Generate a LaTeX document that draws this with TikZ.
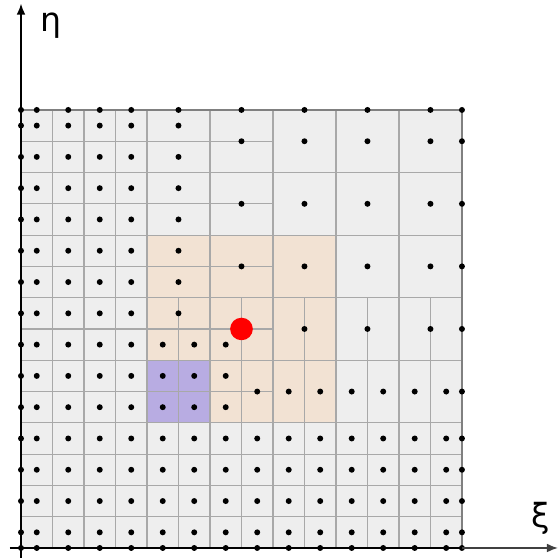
\documentclass[tikz,border=0pt]{standalone}
\usepackage{fontspec}
\setsansfont{DejaVu Sans}
\usepackage{tikz}
\usetikzlibrary{arrows.meta}
\definecolor{cellgray}{HTML}{EEEEEE}
\definecolor{linegray}{HTML}{A8A8A8}
\definecolor{stencil}{HTML}{F2E2D3}
\definecolor{block}{HTML}{B8ACE2}

\begin{document}
\begin{tikzpicture}[x=0.5cm, y=0.4967cm,
  grid/.style={linegray, line width=0.5pt},
  edge/.style={gray, line width=0.9pt},
  axis/.style={-{Latex[length=5pt,width=4pt]}, line width=0.8pt},
  pt/.style={fill=black},
  lbl/.style={font=\sffamily\fontsize{15}{15}\selectfont},
]
  \useasboundingbox (-0.667,-0.32) rectangle (17.048,17.514);

  % cells
  \fill[cellgray] (0,0) rectangle (14,14);
  \fill[stencil] (4,4) rectangle (10,10);
  \fill[block] (4,4) rectangle (6,6);

  % coarse lines
  \foreach \k in {2,4,...,12} {
    \draw[grid] (\k,0) -- (\k,14);
    \draw[grid] (0,\k) -- (14,\k);
  }
  % fine lines
  \foreach \k in {1,3} {
    \draw[grid] (\k,0) -- (\k,14);
    \draw[grid] (0,\k) -- (14,\k);
  }
  \foreach \k in {5,7,...,13} {
    \draw[grid] (\k,0) -- (\k,8);
    \draw[grid] (0,\k) -- (8,\k);
  }
  \draw[edge] (0,14) -- (14,14) -- (14,0);

  % cell centres
  \foreach \i in {0.5,1.5,2.5,3.5}
    \foreach \j in {0.5,1.5,...,13.5}
      \fill[pt] (\i,\j) circle (0.095);
  \foreach \i in {4.5,5.5,...,13.5}
    \foreach \j in {0.5,1.5,2.5,3.5}
      \fill[pt] (\i,\j) circle (0.095);
  \foreach \i in {4.5,5.5,6.5}
    \foreach \j in {4.5,5.5,6.5}
      \fill[pt] (\i,\j) circle (0.095);
  \foreach \j in {7.5,8.5,...,13.5}
    \fill[pt] (5,\j) circle (0.095);
  \foreach \i in {7.5,8.5,...,13.5}
    \fill[pt] (\i,5) circle (0.095);
  \foreach \i in {9,11,13}
    \foreach \j in {7,9,11,13}
      \fill[pt] (\i,\j) circle (0.095);
  \foreach \j in {7,9,11,13}
    \fill[pt] (7,\j) circle (0.095);

  % boundary points
  \foreach \j in {0,0.5,1.5,...,13.5,14}
    \fill[pt] (0,\j) circle (0.095);
  \foreach \i in {0.5,1.5,...,13.5,14}
    \fill[pt] (\i,0) circle (0.095);
  \foreach \i in {0.5,1.5,2.5,3.5,5,7,9,11,13,14}
    \fill[pt] (\i,14) circle (0.095);
  \foreach \j in {0.5,1.5,2.5,3.5,5,7,9,11,13}
    \fill[pt] (14,\j) circle (0.095);

  \fill[red] (7,7) circle (0.36);

  % axes
  \coordinate (ybot) at (0,-0.4);
  \coordinate (ytop) at (0,17.4);
  \coordinate (xleft) at (-0.35,0);
  \coordinate (xright) at (17.05,0);
  \draw[axis] (ybot) -- (ytop);
  \draw[axis, black!75] (xleft) -- (xright);
  \draw[black, line width=0.8pt] (xleft) -- (14,0);
  \node[lbl] (eta) at (0.95,16.7) {η};
  \node[lbl] (xi) at (16.5,0.95) {ξ};
\end{tikzpicture}
\end{document}
